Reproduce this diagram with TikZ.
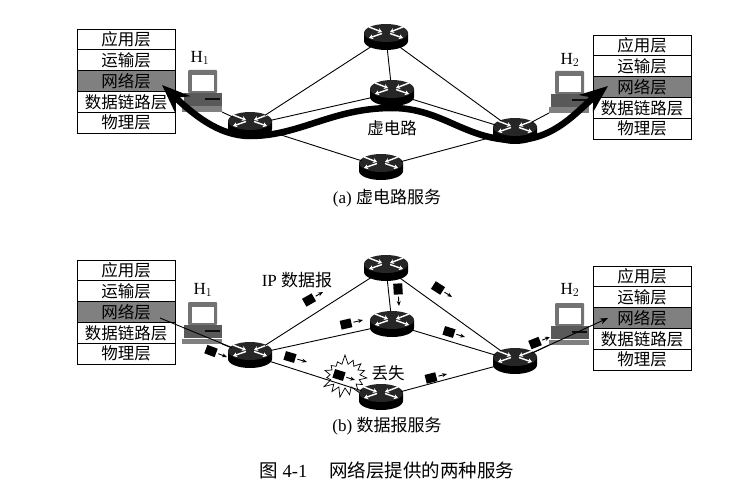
\documentclass[tikz,border=0pt]{standalone}
\usepackage{fontspec}
\setmainfont{Liberation Serif}
\newfontfamily\cjk{Noto Sans CJK SC}
\usetikzlibrary{arrows.meta,positioning,shapes.geometric,shapes.symbols}
\tikzset{
	layerbox/.style={draw, rectangle, line width=0.9pt, outer sep=0pt, inner sep=0pt, minimum width=98pt, minimum height=20.8pt, font=\cjk\fontsize{16.5}{18}\selectfont},
	netlayer/.style={layerbox, fill=black!50},
	routernode/.style={ellipse, inner sep=0pt, outer sep=0pt, minimum width=44pt, minimum height=26pt},
	hostnode/.style={rectangle, inner sep=0pt, outer sep=0pt, minimum width=40pt, minimum height=42pt},
	link/.style={line width=0.9pt},
	vcircuit/.style={line width=6.5pt, -{Stealth[length=28pt,width=22pt]}},
	packetnode/.style={fill=black, inner sep=0pt, minimum width=11pt, minimum height=9pt},
	packetarrow/.style={line width=0.9pt, -{Stealth[length=5pt,width=4pt]}, shorten <=2pt},
	flowline/.style={line width=0.9pt},
	textlabel/.style={inner sep=0pt, font=\fontsize{17}{19}\selectfont},
	burst/.style={starburst, draw, fill=white, line width=0.7pt, starburst points=15, starburst point height=10pt, random starburst=7, inner sep=0pt, minimum width=50pt, minimum height=44pt}
}
\def\layerstack(#1,#2)#3{
	\node[layerbox, anchor=north west] (#31) at (#1,#2) {应用层};
	\node[layerbox, below=0pt of #31] (#32) {运输层};
	\node[netlayer, below=0pt of #32] (#33) {网络层};
	\node[layerbox, below=0pt of #33] (#34) {数据链路层};
	\node[layerbox, below=0pt of #34] (#35) {物理层};
}
\def\hostpc(#1,#2)#3{
	\node[hostnode] (#3) at (#1,#2) {};
	\begin{scope}[shift={(#1,#2)}]
		\fill[black!55, rounded corners=1pt] (-14, -21) rectangle (15, 2);
		\fill[white] (-10, -16) rectangle (12, 0);
		\fill[black!65] (-18, 2) rectangle (20, 15);
		\fill[black!95] (3, 7) rectangle (18, 9);
		\fill[black!50] (-20, 15.5) rectangle (20, 21);
	\end{scope}
}
\def\routerpic(#1,#2)#3{
	\node[routernode] (#3) at (#1,#2) {};
	\begin{scope}[shift={(#1,#2)}]
		\fill[black] (-22, -4) -- (-22, 4) arc (180:360:22pt and 9pt) -- (22, -4) -- cycle;
		\fill[black!85] (0, -4) ellipse (22pt and 9pt);
		\foreach \sx in {-1,1} {
			\draw[white, line width=1.4pt, -{Stealth[length=4pt,width=5pt]}] (\sx*17, -10) -- (\sx*4, -5);
			\draw[white, line width=1.4pt, -{Stealth[length=4pt,width=5pt]}] (\sx*4, -3.5) -- (\sx*17, 1);
		}
	\end{scope}
}

\begin{document}
\begin{tikzpicture}[x=1pt, y=-1pt]
	%%%%% (a) %%%%%
	\useasboundingbox (0, 0) rectangle (743, 484);

	\layerstack(77,29){stackAL}
	\layerstack(593,35){stackAR}
	\hostpc(202,91){hostAL}
	\hostpc(569,92){hostAR}
	\node[textlabel] (labelAL) at (200, 58) {H$_1$};
	\node[textlabel] (labelAR) at (570, 60) {H$_2$};

	\coordinate (tipAL) at (162, 85);
	\coordinate (vcAL) at (250, 136);
	\coordinate (vcAM) at (392, 108);
	\coordinate (vcAR) at (515, 140);
	\coordinate (tipAR) at (608, 86);
	\draw[vcircuit] (vcAM) .. controls +(-60, 0) and +(50, 0) .. (vcAL) .. controls +(-32, 0) and +(30, 28) .. (tipAL);
	\draw[vcircuit] (vcAM) .. controls +(50, 0) and +(-50, 0) .. (vcAR) .. controls +(40, 0) and +(-30, 24) .. (tipAR);

	\routerpic(386,37){rAT}
	\routerpic(392,93){rAM}
	\routerpic(381,167){rAB}
	\routerpic(250,125){rAL}
	\routerpic(515,131){rAR}
	\foreach \f/\t in {rAL/rAT,rAL/rAM,rAL/rAB,rAT/rAM,rAT/rAR,rAM/rAR,rAB/rAR,hostAL.south east/rAL,rAR/hostAR.south west}
		\draw[link] (\f) -- (\t);

	\node[textlabel, font=\cjk\fontsize{16.5}{18}\selectfont] (vclabel) at (392, 128) {虚电路};
	\node[textlabel] (capA) at (387, 198) {(a) {\cjk 虚电路服务}};

	%%%%% (b) %%%%%
	\layerstack(77,260){stackBL}
	\layerstack(593,266){stackBR}
	\hostpc(202,323){hostBL}
	\hostpc(569,324){hostBR}
	\node[textlabel] (labelBL) at (203, 290) {H$_1$};
	\node[textlabel] (labelBR) at (570, 290) {H$_2$};

	\routerpic(386,268){rBT}
	\routerpic(392,324){rBM}
	\routerpic(381,397){rBB}
	\routerpic(250,355){rBL}
	\routerpic(515,361){rBR}

	\node[burst] (lost) at (345, 376) {};

	\foreach \f/\t in {rBL/rBT,rBL/rBM,rBL/rBB,rBT/rBM,rBT/rBR,rBM/rBR,rBB/rBR,hostBL.south east/rBL,rBR/hostBR.south west}
		\draw[link] (\f) -- (\t);

	\coordinate (tipBL) at (160, 318);
	\coordinate (tipBR) at (608, 318);
	\draw[flowline] (tipBL) -- (rBL);
	\draw[flowline, -{Stealth[length=8pt,width=6pt]}] (rBR) -- (tipBR);

	\foreach \px/\py/\tx/\ty [count=\i] in {211/351/227/357, 309/300/323/292, 346/324/363/320, 290/357/307/362, 339/375/355/380, 398/289/399/306, 438/288/452/297, 449/332/465/337, 431/378/447/374, 535/343/550/337} {
		\pgfmathsetmacro\pang{atan2(\py-\ty,\tx-\px)}
		\node[packetnode, rotate=\pang] (pkt\i) at (\px, \py) {};
		\draw[packetarrow] (pkt\i) -- (\tx, \ty);
	}

	\node[textlabel] (iplabel) at (297, 280) {IP {\cjk 数据报}};
	\node[textlabel, font=\cjk\fontsize{16.5}{18}\selectfont] (lostlabel) at (388, 373) {丢失};
	\node[textlabel] (capB) at (387, 426) {(b) {\cjk 数据报服务}};

	\node[textlabel, font=\fontsize{18.5}{20}\selectfont] (figcap) at (387, 470) {{\cjk 图} 4-1\hspace{1.2em}{\cjk 网络层提供的两种服务}};
	%%%%% END %%%%%
\end{tikzpicture}
\end{document}
